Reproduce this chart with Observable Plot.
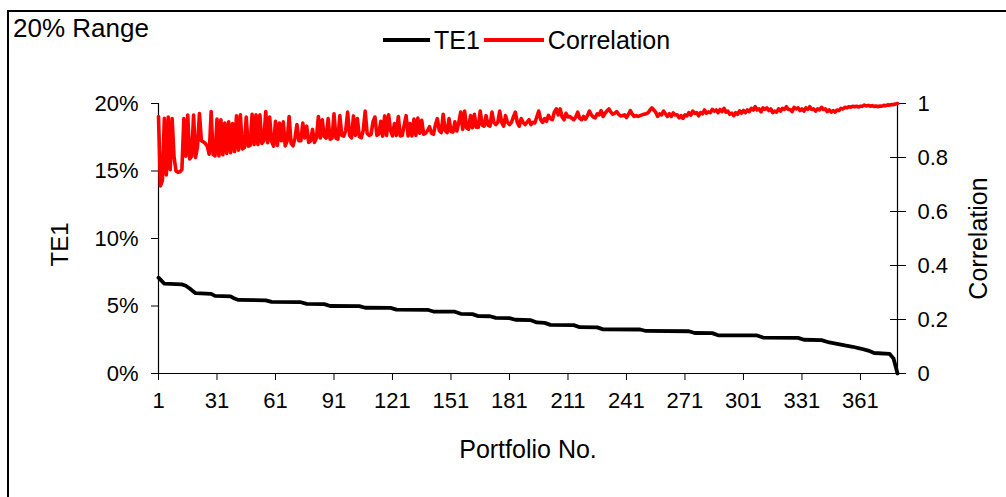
<!DOCTYPE html>
<html><head><meta charset="utf-8">
<script src="https://cdn.jsdelivr.net/npm/d3@7"></script>
<script src="https://cdn.jsdelivr.net/npm/@observablehq/plot@0.6"></script>
<style>
html,body{margin:0;padding:0;background:#fff;}
#wrap{position:relative;width:1006px;height:497px;overflow:hidden;font-family:"Liberation Sans",Arial,sans-serif;color:#000;background:#fff;}
#frame{position:absolute;left:7px;top:10px;width:1100px;height:600px;border-left:2px solid #000;border-top:2px solid #000;}
#head{position:relative;height:60px;}
#title{position:absolute;left:13px;top:14px;font-size:26px;line-height:28px;}
#legend{position:absolute;left:383px;top:26px;font-size:25px;line-height:28px;display:flex;align-items:center;white-space:nowrap;}
.sw{display:inline-block;width:47px;height:4px;margin-right:4px;}
#chart{position:relative;}
</style></head><body>
<div id="wrap"><div id="frame"></div>
<div id="head"><div id="title"></div><div id="legend"></div></div>
<div id="chart"></div></div>
<script>
// ---- data ----
const chartTitle = "20% Range";
const seriesNames = ["TE1", "Correlation"];
const seriesColors = ["#000000", "#ff0000"];
const xAxisTitle = "Portfolio No.";
const xTickLabels = [1, 31, 61, 91, 121, 151, 181, 211, 241, 271, 301, 331, 361];
const te1TickValues = [0, 0.05, 0.10, 0.15, 0.20];
const corrTickLabels = ["0", "0.2", "0.4", "0.6", "0.8", "1"];
const corrTickValues = [0, 0.2, 0.4, 0.6, 0.8, 1];

// TE1 (%) read at its change points
const te1Portfolio = [1,2,4,13,15,17,20,28,30,38,40,42,56,59,74,77,86,89,104,107,120,123,139,142,153,156,162,165,171,174,181,184,192,195,199,202,214,217,226,229,248,251,273,276,285,288,308,311,329,332,341,345,349,353,357,361,365,368,376,378,380];
const te1Value = [7.1,6.95,6.65,6.6,6.5,6.3,5.95,5.9,5.75,5.72,5.55,5.45,5.42,5.3,5.28,5.16,5.14,5.0,4.99,4.87,4.86,4.73,4.72,4.59,4.58,4.42,4.4,4.25,4.24,4.12,4.1,3.98,3.95,3.78,3.75,3.6,3.58,3.43,3.42,3.27,3.26,3.15,3.13,3.0,2.99,2.83,2.82,2.66,2.64,2.5,2.47,2.3,2.2,2.08,1.98,1.85,1.7,1.52,1.45,1.1,0];

// Correlation, one value for each portfolio 1..380
const corrValue = [
.952,.695,.715,.945,.735,.95,.755,.944,.80,.75,
.745,.747,.755,.944,.805,.957,.795,.805,.957,.80,
.84,.963,.862,.858,.852,.842,.812,.97,.812,.806,
.942,.806,.94,.81,.928,.815,.932,.818,.926,.822,
.954,.827,.958,.832,.836,.95,.842,.845,.96,.848,
.958,.848,.958,.852,.862,.97,.855,.95,.86,.842,
.934,.845,.928,.862,.932,.843,.862,.952,.852,.843,
.872,.922,.862,.862,.928,.872,.916,.856,.862,.904,
.856,.872,.952,.872,.94,.878,.872,.944,.868,.872,
.962,.872,.868,.955,.882,.879,.9,.968,.882,.873,
.954,.882,.944,.877,.873,.9,.972,.89,.882,.885,
.932,.95,.882,.887,.934,.879,.954,.882,.958,.9,
.88,.926,.882,.952,.88,.882,.92,.955,.88,.926,
.88,.942,.882,.946,.89,.938,.886,.89,.9,.914,
.89,.886,.92,.944,.9,.892,.96,.9,.892,.944,
.896,.894,.932,.898,.93,.968,.904,.972,.91,.905,
.955,.91,.96,.912,.912,.972,.92,.916,.955,.92,
.916,.968,.93,.922,.93,.972,.93,.916,.955,.93,
.922,.93,.95,.968,.93,.916,.944,.93,.922,.93,
.94,.922,.93,.928,.95,.972,.94,.93,.944,.934,
.956,.944,.94,.968,.98,.958,.98,.95,.94,.964,
.95,.952,.945,.94,.95,.968,.945,.94,.952,.942,
.955,.972,.958,.95,.947,.962,.958,.974,.952,.964,
.972,.98,.968,.96,.964,.97,.96,.954,.955,.958,
.948,.96,.974,.96,.952,.955,.952,.955,.958,.96,
.962,.965,.975,.984,.976,.968,.952,.962,.958,.972,
.962,.952,.962,.952,.965,.958,.958,.947,.955,.945,
.958,.954,.966,.957,.972,.963,.966,.954,.966,.962,
.976,.964,.969,.966,.978,.972,.976,.966,.978,.97,
.982,.968,.972,.96,.964,.955,.966,.96,.973,.964,
.974,.966,.976,.97,.982,.976,.988,.976,.98,.969,
.984,.978,.984,.974,.98,.966,.972,.968,.98,.972,
.982,.978,.988,.978,.978,.97,.986,.98,.984,.974,
.98,.972,.984,.978,.988,.978,.98,.972,.98,.976,
.986,.978,.98,.97,.976,.968,.974,.968,.976,.974,
.982,.98,.986,.984,.988,.986,.99,.988,.99,.987,
.99,.99,.994,.991,.993,.99,.992,.989,.991,.988,
.991,.99,.993,.992,.995,.994,.996,.996,.998,1.0];

// ---- tables ----
const te1Data = te1Portfolio.map((p, i) => ({portfolio: p, te1: te1Value[i] / 100}));
const corrData = corrValue.map((v, i) => ({portfolio: i + 1, corr: v}));
const corrToY = d3.scaleLinear().domain([0, 1]).range([0, 0.2]);

// ---- header ----
document.getElementById("title").textContent = chartTitle;
const legend = document.getElementById("legend");
seriesNames.forEach((n, i) => {
  const sw = document.createElement("span"); sw.className = "sw"; sw.style.background = seriesColors[i];
  if (i === 1) sw.style.width = "60px";
  const t = document.createElement("span"); t.textContent = n; t.style.marginRight = i === 0 ? "4px" : "0";
  legend.appendChild(sw); legend.appendChild(t);
});

const font = '"Liberation Sans", Arial, sans-serif';
const chart = Plot.plot({
  width: 1006, height: 437,
  marginLeft: 158, marginRight: 109, marginTop: 43, marginBottom: 124,
  style: {fontFamily: font, fontSize: "22px", background: "transparent", color: "#000", overflow: "visible"},
  x: {domain: [1, 380]},
  y: {domain: [0, 0.2]},
  marks: [
    Plot.axisX({ticks: xTickLabels, tickSize: 7, tickPadding: 12, tickFormat: d => String(d), label: null, fontSize: 22}),
    Plot.axisY({anchor: "left", ticks: te1TickValues, tickFormat: d3.format(".0%"), tickSize: 7, tickPadding: 13, label: null, fontSize: 22}),
    Plot.axisY({anchor: "right", ticks: corrTickValues.map(corrToY), tickFormat: (d, i) => corrTickLabels[i], tickSize: 8, tickPadding: 12, label: null, fontSize: 22}),
    Plot.axisY({anchor: "right", ticks: corrTickValues.map(corrToY), tickFormat: () => "", tickSize: -8, label: null}),
    Plot.ruleX([1], {stroke: "#000", strokeWidth: 1.2}),
    Plot.ruleX([380], {stroke: "#000", strokeWidth: 1.2}),
    Plot.ruleY([0], {stroke: "#000", strokeWidth: 1.2}),
    Plot.line(corrData, {x: "portfolio", y: d => corrToY(d.corr), stroke: seriesColors[1], strokeWidth: 3.6}),
    Plot.line(te1Data, {x: "portfolio", y: "te1", stroke: seriesColors[0], strokeWidth: 3.8}),
    Plot.text([seriesNames[0]], {text: d => d, frameAnchor: "left", textAnchor: "middle", dx: -98, dy: 6, rotate: -90, fontSize: 24}),
    Plot.text([seriesNames[1]], {text: d => d, frameAnchor: "right", textAnchor: "middle", dx: 81, rotate: -90, fontSize: 25}),
    Plot.text([xAxisTitle], {text: d => d, frameAnchor: "bottom", dy: 84, fontSize: 25})
  ]
});
document.getElementById("chart").appendChild(chart);
</script>
</body></html>
